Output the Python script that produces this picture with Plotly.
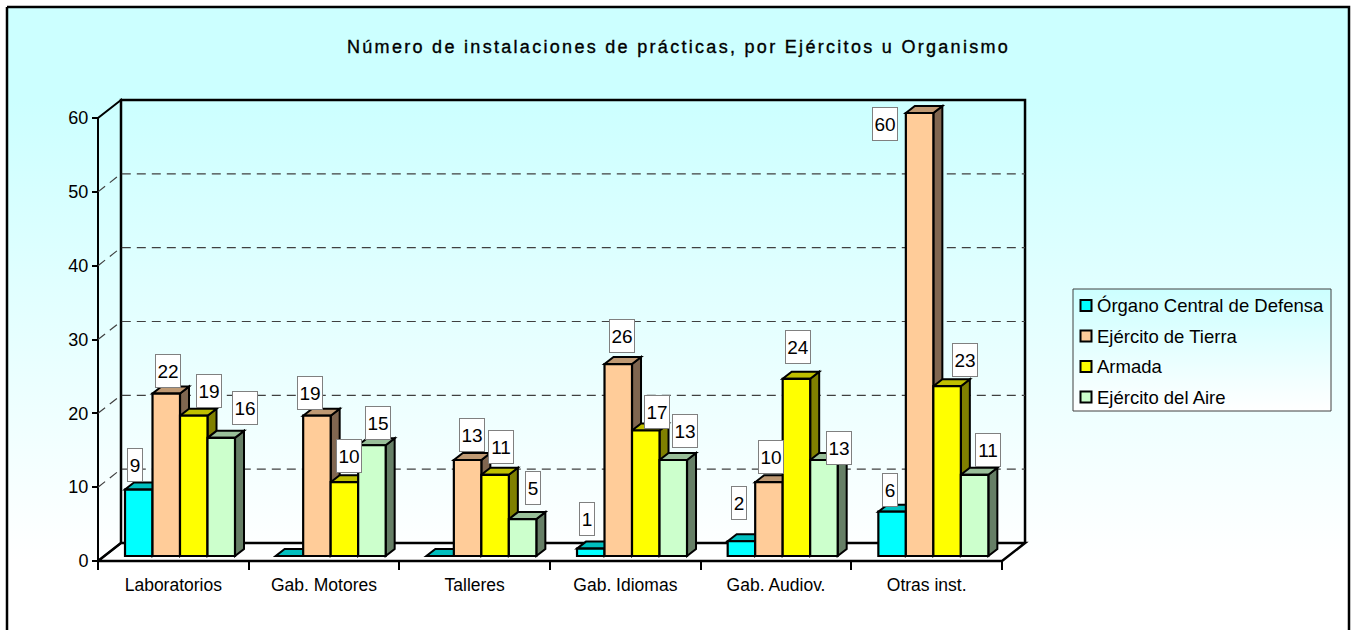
import plotly.graph_objects as go

# ---- data ----
categories = ["Laboratorios", "Gab. Motores", "Talleres", "Gab. Idiomas", "Gab. Audiov.", "Otras inst."]
organo = [9, 0, 0, 1, 2, 6]
tierra = [22, 19, 13, 26, 10, 60]
armada = [19, 10, 11, 17, 24, 23]
aire = [16, 15, 5, 13, 13, 11]
series_names = ["Órgano Central de Defensa", "Ejército de Tierra", "Armada", "Ejército del Aire"]
y_ticks = [0, 10, 20, 30, 40, 50, 60]
title_text = "Número de instalaciones de prácticas, por Ejércitos u Organismo"

# ---- styling ----
W, H = 1353, 630
FONT = "Liberation Sans"
front = ["#00FFFF", "#FFCC99", "#FFFF00", "#CCFFCC"]
top_c = ["#00BFBF", "#BF9973", "#BFBF00", "#99BF99"]
side_c = ["#008080", "#806650", "#808000", "#667F66"]
series = [organo, tierra, armada, aire]

# pixel scale of the main axes
X0, Y0 = 98.0, 561.0
SX, SY = 150.67, 7.383
DX, DY = 23 / SX, 18 / SY          # depth of the chart box
BDX, BDY = 9 / SX, 7 / SY          # depth of each bar
BASE = 5 / SY                      # bars stand a little inside the floor
GROUP_SHIFT = (180 - 173.33) / SX
BAR_W = 27.5 / SX

def px_x(x): return X0 + x * SX
def px_y(y): return Y0 - y * SY

# centres (pixels) of the value boxes, in series order per category
label_centres = {
    (0, 0): (135, 465), (0, 1): (168, 371), (0, 2): (209, 391), (0, 3): (245, 408),
    (1, 1): (310, 393), (1, 2): (349, 456), (1, 3): (378, 423),
    (2, 1): (472, 435), (2, 2): (501, 447), (2, 3): (533, 488),
    (3, 0): (587, 519), (3, 1): (622, 336), (3, 2): (657, 412), (3, 3): (685, 431),
    (4, 0): (739, 503), (4, 1): (771, 457), (4, 2): (798, 347), (4, 3): (839, 448),
    (5, 0): (890, 490), (5, 1): (885, 124), (5, 2): (965, 360), (5, 3): (988, 450),
}

fig = go.Figure()

# background subplot (page pixels): chart-area and legend gradient panels
page_scale = [[0, "#FFFFFF"], [0.126, "#FFFFFF"], [0.853, "#CCFFFF"], [1, "#CCFFFF"]]
legend_scale = [[0, "#FFFFFF"], [1, "#CCFFFF"]]
fig.add_trace(go.Scatter(x=[7, 1349, 1349, 7, 7], y=[7, 7, 640, 640, 7], mode="lines", fill="toself",
                         fillgradient=dict(type="vertical", colorscale=page_scale),
                         line=dict(color="#000000", width=2.5), hoverinfo="skip", showlegend=False,
                         xaxis="x", yaxis="y"))
fig.add_trace(go.Scatter(x=[1073, 1331, 1331, 1073, 1073], y=[289, 289, 411, 411, 289], mode="lines", fill="toself",
                         fillgradient=dict(type="vertical", colorscale=legend_scale),
                         line=dict(color="#404040", width=1), hoverinfo="skip", showlegend=False,
                         xaxis="x", yaxis="y"))
fig.add_trace(go.Scatter(x=[1086] * 4, y=[305.5, 336, 366.5, 397], mode="markers",
                         marker=dict(symbol="square", size=11, color=front, line=dict(color="#000000", width=2)),
                         hoverinfo="skip", showlegend=False, xaxis="x", yaxis="y"))

# bars
centres = [i + 0.5 + GROUP_SHIFT for i in range(len(categories))]
for s, vals in enumerate(series):
    fig.add_trace(go.Bar(x=centres, y=vals, base=BASE, name=series_names[s], marker=dict(color=front[s], line=dict(color="#000000", width=2.2)),
                         xaxis="x2", yaxis="y2", showlegend=False))

# chart box, gridlines and bar depth faces, all in main-axis data units
shapes = []
def poly(points, fill=None, color="#000000", width=2, dash=None):
    path = "M" + "L".join(f"{x},{y}" for x, y in points) + ("Z" if fill else "")
    d = dict(type="path", path=path, xref="x2", yref="y2", layer="between",
             line=dict(color=color, width=width))
    if dash:
        d["line"]["dash"] = dash
    if fill:
        d["fillcolor"] = fill
    shapes.append(d)

n = len(categories)
top = y_ticks[-1]
poly([(0, 0), (DX, DY), (DX, top + DY), (0, top), (0, 0)], width=2)
poly([(DX, DY), (DX, top + DY), (n + DX, top + DY), (n + DX, DY)], width=2.5)
poly([(0, 0), (n, 0), (n + DX, DY), (DX, DY), (0, 0)], width=2.5)
for v in y_ticks[1:-1]:
    poly([(0, v), (DX, v + DY), (n + DX, v + DY)], color="#404040", width=1.2, dash="9px,6px")
for i in range(n):
    for s, vals in enumerate(series):
        v = vals[i] + BASE
        xl = centres[i] + (s - 2) * BAR_W
        xr = xl + BAR_W
        poly([(xr, BASE), (xr, v), (xr + BDX, v + BDY), (xr + BDX, BASE + BDY)], fill=side_c[s])
        poly([(xl, v), (xr, v), (xr + BDX, v + BDY), (xl + BDX, v + BDY)], fill=top_c[s])

# value boxes
annotations = []
for (i, s), (cx, cy) in label_centres.items():
    val = series[s][i]
    bx = centres[i] + (s - 1.5) * BAR_W
    annotations.append(dict(x=bx, y=val + BASE, xref="x2", yref="y2", text=str(val), showarrow=False,
                            xshift=cx - px_x(bx), yshift=px_y(val + BASE) - cy,
                            width=24 if val >= 10 else 14, height=32, bgcolor="#FFFFFF",
                            bordercolor="#808080", borderwidth=1, borderpad=0,
                            font=dict(family=FONT, size=19, color="#000000")))

# title and legend text
annotations.append(dict(x=678 / W, y=1 - 47 / H, xref="paper", yref="paper", showarrow=False, yanchor="middle",
                        text=f'<span style="letter-spacing:2.3px;stroke:#000000;stroke-width:0.35px">{title_text}</span>',
                        font=dict(family=FONT, size=18, color="#000000")))
for name, ly in zip(series_names, [305.5, 336, 366.5, 397]):
    annotations.append(dict(x=1095 / W, y=1 - ly / H, xref="paper", yref="paper", showarrow=False, yanchor="middle",
                            text=name, xanchor="left", font=dict(family=FONT, size=18.5, color="#000000")))

fig.update_layout(
    width=W, height=H, margin=dict(l=0, r=0, t=0, b=0), autosize=False,
    paper_bgcolor="#FFFFFF", plot_bgcolor="rgba(0,0,0,0)",
    showlegend=False, barmode="group", bargap=1 - 4 * BAR_W, bargroupgap=0,
    shapes=shapes, annotations=annotations,
    xaxis=dict(domain=[0, 1], range=[0, W], visible=False, fixedrange=True),
    yaxis=dict(domain=[0, 1], range=[H, 0], visible=False, fixedrange=True),
    xaxis2=dict(domain=[0, 1], range=[-X0 / SX, (W - X0) / SX], anchor="free", position=(H - Y0) / H,
                tickmode="array", tickvals=[i + 0.5 for i in range(n)], ticktext=categories,
                ticks="outside", ticklen=8, tickcolor="rgba(0,0,0,0)", showgrid=False, zeroline=False,
                showline=False, tickfont=dict(family=FONT, size=17.5, color="#000000"),
                minor=dict(tickmode="array", tickvals=list(range(n + 1)), ticks="outside", ticklen=8,
                           tickwidth=2, tickcolor="#000000", showgrid=False)),
    yaxis2=dict(domain=[0, 1], range=[(Y0 - H) / SY, Y0 / SY], anchor="free", position=X0 / W,
                tickmode="array", tickvals=y_ticks, ticks="outside", ticklen=6, tickwidth=2,
                tickcolor="#000000", showgrid=False, zeroline=False, showline=False,
                tickfont=dict(family=FONT, size=18, color="#000000")),
)
fig.write_html("out.html", config=dict(displayModeBar=False),
               post_script="document.body.style.margin='0';document.documentElement.style.overflow='hidden';")
